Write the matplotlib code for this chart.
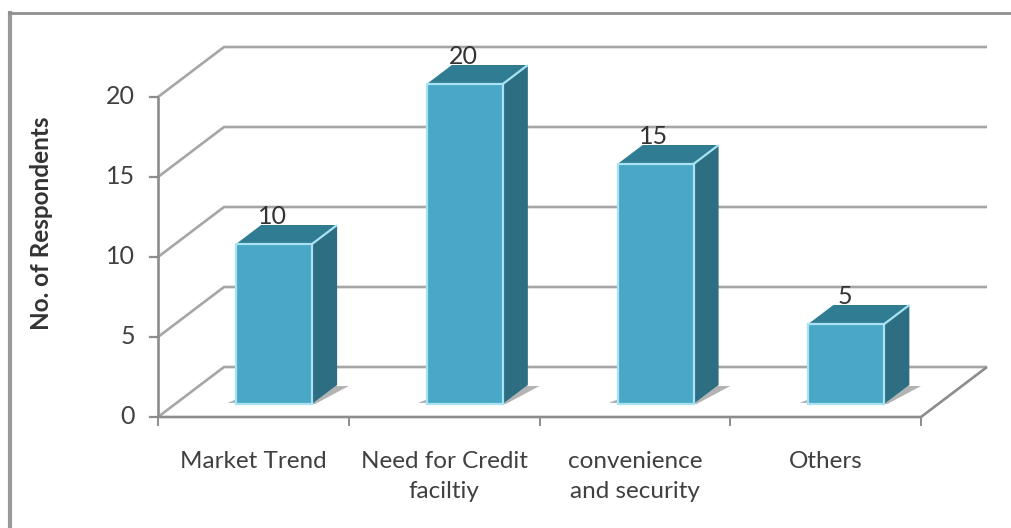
import numpy as np
import matplotlib
matplotlib.use('Agg')
import matplotlib.pyplot as plt
from matplotlib.patches import Polygon

categories = ['Market Trend', 'Need for Credit\nfaciltiy', 'convenience\nand security', 'Others']
values = [10, 20, 15, 5]
yticks = [0, 5, 10, 15, 20]
ylabel = 'No. of Respondents'

W, H = 1011, 528
plt.rcParams['font.family'] = ['Lato', 'DejaVu Sans']

fig = plt.figure(figsize=(W / 100, H / 100), dpi=100)
fig.patch.set_facecolor('white')

# front plane of the fake 3d box, in pixels
left, right, bottom, top = 158, 921, 417, 97
ax = fig.add_axes([left / W, 1 - bottom / H, (right - left) / W, (bottom - top) / H])
ax.set_xlim(0, len(categories))
ax.set_ylim(0, 20)
ax.axis('off')

# how far one full unit of depth moves a point, in data units
px_x = len(categories) / (right - left)
px_y = 20 / (bottom - top)
depth_x = 66 * px_x
depth_y = 50 * px_y


def pt(x, y, d=0.0):
    return (x + d * depth_x, y + d * depth_y)


def poly(points, **kw):
    kw.setdefault('clip_on', False)
    ax.add_patch(Polygon(points, closed=True, **kw))


def line(points, color='#a6a6a6', lw=1.9, zorder=1):
    xs, ys = zip(*points)
    ax.plot(xs, ys, color=color, lw=lw, clip_on=False, zorder=zorder, solid_capstyle='butt')


n = len(categories)

# gridlines: side wall then back wall
for v in yticks:
    line([pt(0, v), pt(0, v, 1), pt(n, v, 1)])

# floor and axes
line([pt(0, 0), pt(n, 0), pt(n, 0, 1)], color='#8c8c8c', zorder=2)
line([pt(0, 0), pt(0, 20)], color='#8c8c8c', zorder=2)
for v in yticks:
    ax.plot([-8 * px_x, 0], [v, v], color='#8c8c8c', lw=1.6, clip_on=False, zorder=2)
    ax.text(-23 * px_x, v, str(v), ha='right', va='center', fontsize=18, color='#404040')
for i in range(n + 1):
    ax.plot([i, i], [0, -8 * px_y], color='#8c8c8c', lw=1.4, clip_on=False, zorder=2)

# bars
bar_w = 76 * px_x
d0, d1 = 0.26, 0.64
shift = 3.5 * px_x
for i, (name, v) in enumerate(zip(categories, values)):
    x0 = i + 0.5 - bar_w / 2 + shift
    x1 = x0 + bar_w
    # shadow on the floor
    poly([pt(x0 - 10 * px_x, 0, d0 + 0.02), pt(x0, 0, d0 + 0.02), pt(x0, 0, d0 + 0.17), pt(x0 - 2 * px_x, 0, d0 + 0.17)],
         facecolor='#b3b3b3', edgecolor='none', zorder=3)
    poly([pt(x1, 0, d0), pt(x1, 0, d1 - 0.02), pt(x1 + 13 * px_x, 0, d1 - 0.02), pt(x1 + 3 * px_x, 0, d0)],
         facecolor='#b3b3b3', edgecolor='none', zorder=3)
    # side, top, front
    poly([pt(x1, 0, d0), pt(x1, 0, d1), pt(x1, v, d1), pt(x1, v, d0)],
         facecolor='#2e6e82', edgecolor='none', zorder=4)
    poly([pt(x0, v, d0), pt(x1, v, d0), pt(x1, v, d1), pt(x0, v, d1)],
         facecolor='#2f7c93', edgecolor='none', zorder=4)
    poly([pt(x0, 0, d0), pt(x1, 0, d0), pt(x1, v, d0), pt(x0, v, d0)],
         facecolor='#4aa8c7', edgecolor='#a8e2f3', lw=1.6, zorder=5)
    line([pt(x1, v, d0), pt(x1, v, d1)], color='#a8e2f3', lw=1.6, zorder=5)
    # value label sits behind the top of the bar
    ax.text(i + 0.5 + 19 * px_x, v + 41 * px_y, str(v), ha='center', va='center', fontsize=18,
            color='#333333', zorder=6)
    # category label
    ax.text(i + 0.5, -34 * px_y, name, ha='center', va='top', fontsize=17.5, color='#404040',
            linespacing=1.55, clip_on=False)

fig.text(42 / W, 1 - 223 / H, ylabel, rotation=90, ha='center', va='center', fontsize=17.5,
         fontweight='bold', color='#333333')

# picture frame: only left and top edges show
fig.add_artist(plt.Line2D([10 / W, 10 / W], [0, 1 - 13 / H], color='#9a9a9a', lw=3))
fig.add_artist(plt.Line2D([8.5 / W, 1], [1 - 13 / H, 1 - 13 / H], color='#8f8f8f', lw=2))

fig.savefig('out.png', dpi=100)
